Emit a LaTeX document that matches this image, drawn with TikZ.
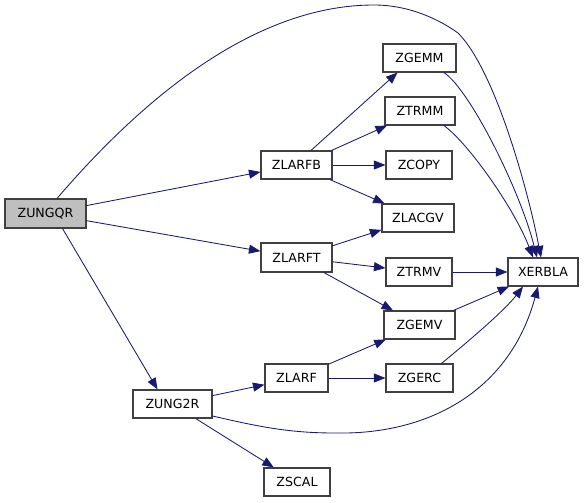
\documentclass[tikz,border=0pt]{standalone}
\usepackage{fontspec}
\setmainfont{DejaVu Sans}
\usetikzlibrary{arrows.meta}
\definecolor{edgeblue}{HTML}{191970}
\definecolor{boxline}{HTML}{404040}
\begin{document}
\begin{tikzpicture}[x=1pt,y=-1pt,
  box/.style={draw=boxline, line width=1.1pt, fill=white, inner sep=0pt, minimum height=28pt, font=\fontsize{12.6}{14}\selectfont},
  edge/.style={draw=edgeblue, line width=0.85pt, -{Triangle[length=11.5pt,width=9pt]}}]
\useasboundingbox (0,0) rectangle (587,503);
\node[box, fill=black!25, minimum width=81pt, minimum height=29pt] (zungqr) at (45.5,213.5) {ZUNGQR};
\node[box, minimum width=71pt] (zlarfb) at (296.5,165) {ZLARFB};
\node[box, minimum width=71pt, minimum height=29pt] (zlarft) at (296.5,257.5) {ZLARFT};
\node[box, minimum width=79pt] (zung2r) at (172.5,404) {ZUNG2R};
\node[box, minimum width=73pt] (zgemm) at (419.5,58) {ZGEMM};
\node[box, minimum width=70pt] (ztrmm) at (420,111) {ZTRMM};
\node[box, minimum width=66pt] (zcopy) at (419,165) {ZCOPY};
\node[box, minimum width=72pt] (zlacgv) at (418,218) {ZLACGV};
\node[box, minimum width=66pt] (ztrmv) at (419,272) {ZTRMV};
\node[box, minimum width=71pt] (zgemv) at (419.5,325) {ZGEMV};
\node[box, minimum width=63pt] (zlarf) at (296.5,378) {ZLARF};
\node[box, minimum width=67pt] (zgerc) at (419.5,378) {ZGERC};
\node[box, minimum width=66pt] (zscal) at (297,482) {ZSCAL};
\node[box, minimum width=70pt] (xerbla) at (543,272) {XERBLA};

\draw[edge] (zungqr) -- (zlarfb);
\draw[edge] (zungqr) -- (zlarft);
\draw[edge] ([xshift=17pt]zungqr.south) -- ([xshift=-15pt]zung2r.north);
\draw[edge] ([xshift=11.5pt]zungqr.north) .. controls (150,90) and (260,5) .. (374,5)
  .. controls (410,5) and (440,20) .. (458,33)
  .. controls (495,70) and (528,190) .. ([xshift=-2pt]xerbla.north);
\draw[edge] ([xshift=14.5pt]zlarfb.north) -- ([xshift=-22pt]zgemm.south);
\draw[edge] ([xshift=-1pt]zlarfb.north east) -- ([xshift=-33pt]ztrmm.south);
\draw[edge] (zlarfb) -- (zcopy);
\draw[edge] (zlarfb) -- (zlacgv);
\draw[edge] (zlarft) -- (zlacgv);
\draw[edge] (zlarft) -- (ztrmv);
\draw[edge] (zlarft) -- (zgemv);
\draw[edge] ([xshift=24.5pt]zgemm.south) .. controls (470,90) and (520,190) .. ([xshift=-6pt]xerbla.north);
\draw[edge] ([xshift=24pt]ztrmm.south) .. controls (470,145) and (515,210) .. ([xshift=-10pt]xerbla.north);
\draw[edge] (ztrmv) -- (xerbla);
\draw[edge] (zgemv) -- (xerbla);
\draw[edge] ([xshift=22pt]zgerc.north) .. controls (470,340) and (505,310) .. ([xshift=-20pt]xerbla.south);
\draw[edge] (zlarf) -- (zgemv);
\draw[edge] (zlarf) -- (zgerc);
\draw[edge] (zung2r) -- (zlarf);
\draw[edge] (zung2r) -- (zscal);
\draw[edge] ([yshift=-12pt]zung2r.east) .. controls (260,427) and (290,433) .. (335,433)
  .. controls (430,435) and (510,390) .. ([xshift=-5pt]xerbla.south);
\end{tikzpicture}
\end{document}
